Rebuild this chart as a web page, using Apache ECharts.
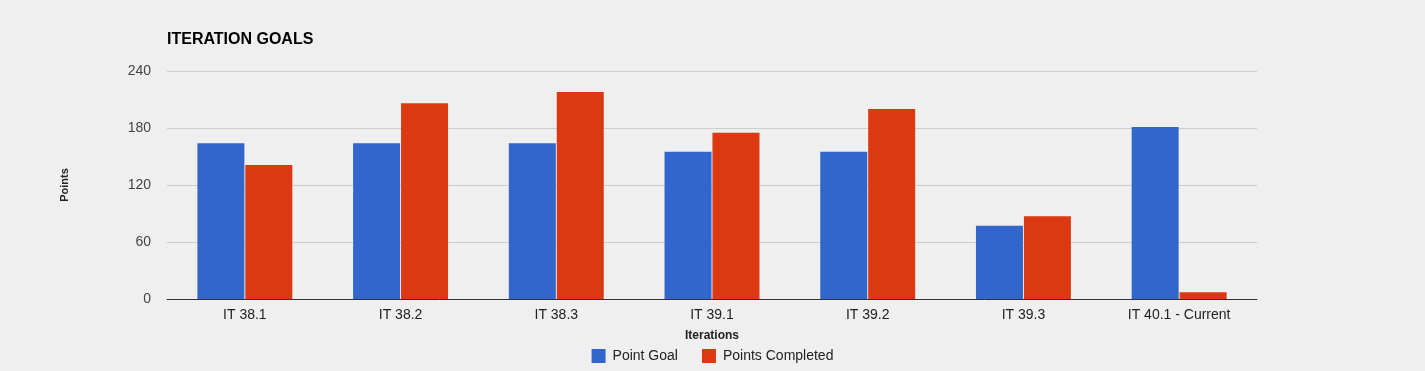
<!DOCTYPE html>
<html>
<head>
<meta charset="utf-8">
<script src="https://cdn.jsdelivr.net/npm/echarts@6/dist/echarts.min.js"></script>
<style>
html,body{margin:0;padding:0;background:#efefef;}
#chart{width:1425px;height:371px;}
</style>
</head>
<body>
<div id="chart"></div>
<script>
const categories = ['IT 38.1','IT 38.2','IT 38.3','IT 39.1','IT 39.2','IT 39.3','IT 40.1 - Current'];
const pointGoal = [164,164,164,155,155,77,181];
const pointsCompleted = [141,206,218,175,200,87,7];
const yTicks = [0,60,120,180,240];

const FONT = '"Liberation Sans", Arial, sans-serif';
const chart = echarts.init(document.getElementById('chart'));
chart.setOption({
  backgroundColor:'#efefef',
  animation:false,
  title:{text:'ITERATION GOALS',left:162,top:27,textStyle:{fontFamily:FONT,fontSize:16,fontWeight:'bold',color:'#000'}},
  grid:{left:167,right:168,top:71,bottom:72},
  legend:{
    bottom:3,left:'center',itemWidth:14,itemHeight:14,itemGap:24,icon:'rect',
    textStyle:{fontFamily:FONT,fontSize:14,color:'#222',padding:[0,0,0,2]},
    data:['Point Goal','Points Completed']
  },
  xAxis:{
    type:'category',data:categories,
    name:'Iterations',nameLocation:'middle',nameGap:31,
    nameTextStyle:{fontFamily:FONT,fontSize:12,fontWeight:'bold',color:'#222'},
    axisLine:{lineStyle:{color:'#333',width:1}},
    axisTick:{show:false},
    axisLabel:{fontFamily:FONT,fontSize:14,color:'#222',margin:9}
  },
  yAxis:{
    type:'value',min:yTicks[0],max:yTicks[yTicks.length-1],interval:60,
    name:'Points',nameLocation:'middle',nameGap:97,nameRotate:90,
    nameTextStyle:{fontFamily:FONT,fontSize:11,fontWeight:'bold',color:'#222'},
    axisLine:{show:false},axisTick:{show:false},
    axisLabel:{fontFamily:FONT,fontSize:14,color:'#444',margin:16},
    splitLine:{lineStyle:{color:'#cccccc'}}
  },
  series:[
    {name:'Point Goal',type:'bar',data:pointGoal,barWidth:47,barGap:'2%',itemStyle:{color:'#3366cc'}},
    {name:'Points Completed',type:'bar',data:pointsCompleted,barWidth:47,barGap:'2%',itemStyle:{color:'#dc3912'}}
  ]
});
</script>
</body>
</html>
